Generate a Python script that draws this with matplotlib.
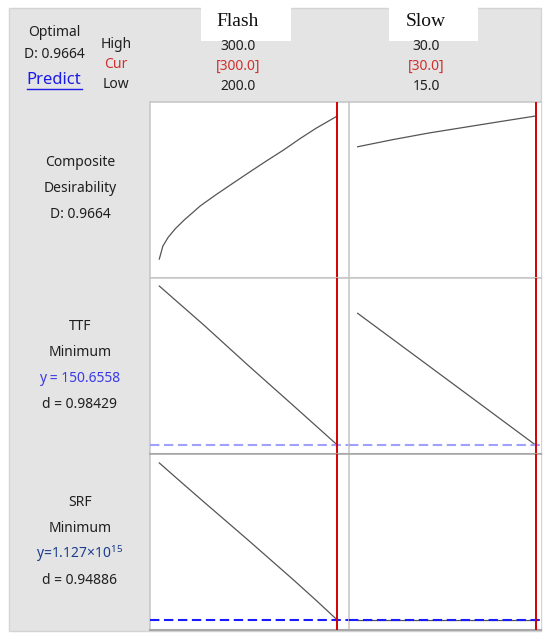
import matplotlib
matplotlib.use("Agg")
import matplotlib.pyplot as plt
from matplotlib.patches import Rectangle
from matplotlib.lines import Line2D

plt.rcParams['font.family'] = ['Noto Sans', 'DejaVu Sans']
plt.rcParams['mathtext.fontset'] = 'custom'
plt.rcParams['mathtext.rm'] = 'Noto Sans'

# ---- data ----
factors = ["Flash", "Slow"]
high = [300.0, 30.0]
cur = [300.0, 30.0]
low = [200.0, 15.0]

# composite desirability vs each factor
flash_d = [200, 202, 205, 209, 214, 223, 232, 242, 251, 260, 270, 279, 288, 300]
comp_d_flash = [0.113, 0.190, 0.243, 0.294, 0.346, 0.430, 0.498, 0.570, 0.634,
                0.697, 0.765, 0.831, 0.893, 0.9664]
slow_d = [15, 18, 21, 24, 27, 30]
comp_d_slow = [0.783, 0.826, 0.865, 0.899, 0.933, 0.9664]

# TTF response
flash_ttf = [200, 225, 250, 275, 300]
ttf_flash = [331.3, 287.0, 241.0, 196.0, 150.6558]
slow_ttf = [15, 20, 25, 30]
ttf_slow = [300.3, 250.5, 200.6, 150.6558]

# SRF response (units of 1e15)
flash_srf = [200, 212.5, 225, 237.5, 250, 262.5, 275, 287.5, 300]
srf_flash = [10.05, 8.94, 7.84, 6.75, 5.66, 4.55, 3.44, 2.30, 1.127]
slow_srf = [15, 20, 25, 30]
srf_slow = [1.127, 1.127, 1.127, 1.127]

ttf_cur = 150.6558
srf_cur = 1.127

W, H = 550, 641
fig = plt.figure(figsize=(W / 100, H / 100), dpi=100)
fig.patch.set_facecolor('white')


def fx(x):
    return x / W


def fy(y):
    return 1 - y / H


# grey panel behind everything
fig.patches.append(Rectangle((fx(9), fy(631)), fx(532), 623 / H,
                             transform=fig.transFigure, facecolor='#e4e4e4',
                             edgecolor='#d4d4d4', lw=1, zorder=-2))
# white header boxes
for x0, x1 in [(201, 291), (389, 478)]:
    fig.patches.append(Rectangle((fx(x0), fy(41)), fx(x1 - x0), 41 / H,
                                 transform=fig.transFigure, facecolor='white',
                                 edgecolor='none', zorder=-1))

cols = [(150, 349), (349, 541)]
rows = [(102, 278), (278, 454), (454, 630)]
xlims = [(194.78, 306.57), (14.27, 30.46)]
ylims = [(0, 1.05), (140.43, 340.43), (0.559, 10.559)]

series = [
    [(flash_d, comp_d_flash), (slow_d, comp_d_slow)],
    [(flash_ttf, ttf_flash), (slow_ttf, ttf_slow)],
    [(flash_srf, srf_flash), (slow_srf, srf_slow)],
]
hlines = [None, (ttf_cur, '#a0a0ff'), (srf_cur, '#1a1aff')]
bottom_col = ['#c8c8c8', '#a8a8a8', '#a8a8a8']

for r, (ry0, ry1) in enumerate(rows):
    for c, (cx0, cx1) in enumerate(cols):
        ax = fig.add_axes([fx(cx0), fy(ry1), fx(cx1 - cx0), (ry1 - ry0) / H])
        ax.set_facecolor('white')
        ax.set_xlim(*xlims[c])
        ax.set_ylim(*ylims[r])
        ax.set_xticks([])
        ax.set_yticks([])
        ax.spines['right'].set_visible(False)
        ax.spines['left'].set_color('#c8c8c8')
        ax.spines['left'].set_linewidth(1.2)
        ax.spines['top'].set_color('#c8c8c8' if r == 0 else bottom_col[r - 1])
        ax.spines['top'].set_linewidth(1.2)
        ax.spines['bottom'].set_color(bottom_col[r])
        ax.spines['bottom'].set_linewidth(1.5)
        xs, ys = series[r][c]
        ax.plot(xs, ys, color='#555555', lw=0.9, zorder=3)
        if hlines[r] is not None:
            val, col = hlines[r]
            ax.axhline(val, color=col, lw=1.5, dashes=(4.5, 2.2), zorder=4)
        ax.axvline(cur[c], color='#d40000', lw=1.4, zorder=5)

# header texts
fig.text(fx(54), fy(32), 'Optimal', ha='center', va='center', fontsize=10, color='#202020')
fig.text(fx(54), fy(55), 'D: 0.9664', ha='center', va='center', fontsize=10, color='#202020')
fig.text(fx(54), fy(80), 'Predict', ha='center', va='center', fontsize=12, color='#1a1ae6')
fig.lines.append(Line2D([fx(27), fx(82)], [fy(89), fy(89)], transform=fig.transFigure,
                        color='#1a1ae6', lw=1))
fig.text(fx(116), fy(45), 'High', ha='center', va='center', fontsize=10, color='#202020')
fig.text(fx(116), fy(65), 'Cur', ha='center', va='center', fontsize=10, color='#d03030')
fig.text(fx(116), fy(84), 'Low', ha='center', va='center', fontsize=10, color='#202020')

col_cx = [238, 426]
for i in range(2):
    fig.text(fx(col_cx[i]), fy(21), factors[i], ha='center', va='center',
             fontsize=14, family='Liberation Serif', color='#101010')
    fig.text(fx(col_cx[i]), fy(46), f'{high[i]:.1f}', ha='center', va='center',
             fontsize=10, color='#202020')
    fig.text(fx(col_cx[i]), fy(66), f'[{cur[i]:.1f}]', ha='center', va='center',
             fontsize=10, color='#d03030')
    fig.text(fx(col_cx[i]), fy(87), f'{low[i]:.1f}', ha='center', va='center',
             fontsize=10, color='#202020')

# row labels
lab_x = fx(80)
row_labels = [
    [('Composite', '#202020', 163), ('Desirability', '#202020', 189),
     ('D: 0.9664', '#202020', 215)],
    [('TTF', '#202020', 326), ('Minimum', '#202020', 353),
     ('y = 150.6558', '#3a3ae6', 379), ('d = 0.98429', '#202020', 404)],
    [('SRF', '#202020', 502), ('Minimum', '#202020', 528),
     (r'y=1.127×10$^{\mathrm{15}}$', '#1c3c8c', 554), ('d = 0.94886', '#202020', 580)],
]
for group in row_labels:
    for txt, col, y in group:
        fig.text(lab_x, fy(y), txt, ha='center', va='center', fontsize=10, color=col)

fig.savefig('out.png', dpi=100)
